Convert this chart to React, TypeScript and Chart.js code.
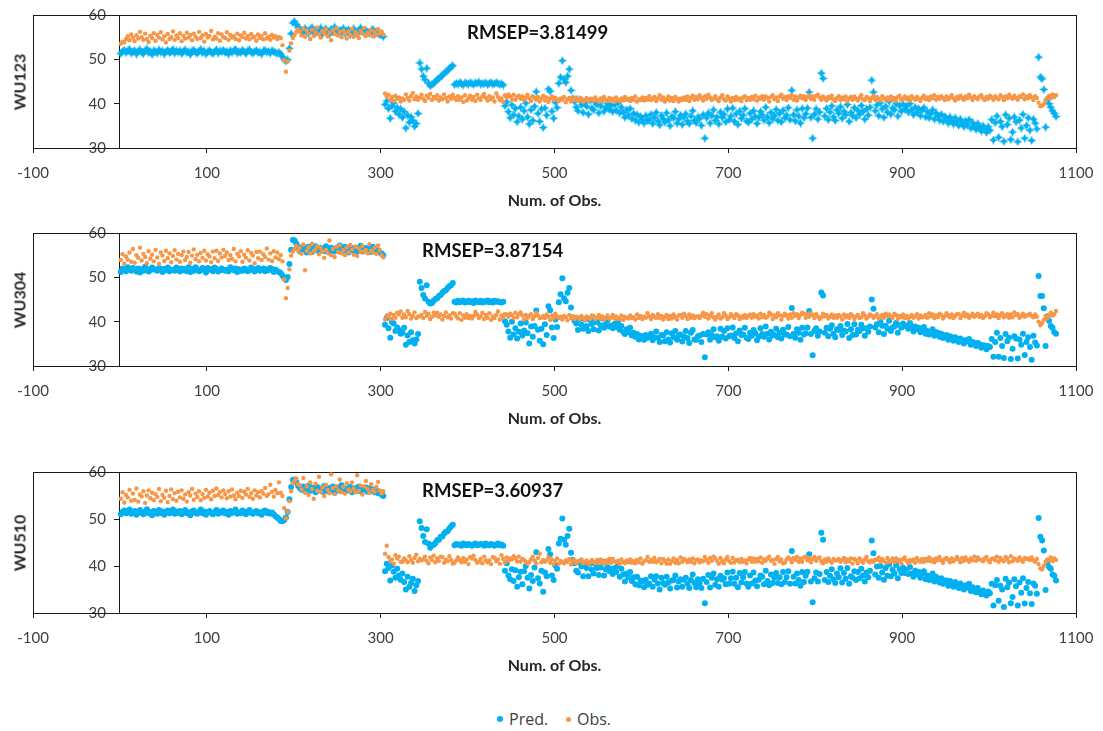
import { useEffect, useRef } from "react";
import { Chart, registerables } from "chart.js";

Chart.register(...registerables);

// Observation numbering: every second observation is kept, starting at 1
const OBS_FIRST = 1;
const OBS_STEP = 2;

const X_MIN = -100;
const X_MAX = 1100;
const X_STEP = 200;
const Y_MIN = 30;
const Y_MAX = 60;
const Y_STEP = 10;

const unitNames = ["WU123", "WU304", "WU510"];
const rmsepValues = [3.81499, 3.87154, 3.60937];
const seriesNames = ["Pred.", "Obs."];

const predWU123 = [
  51.3, 51.8, 52.1, 51.5, 51.9, 52.3, 51.4, 51.7, 52.0, 51.2,
  51.8, 52.2, 51.6, 51.3, 51.9, 52.4, 51.5, 51.8, 51.1, 52.0,
  51.7, 51.4, 52.2, 51.6, 51.9, 51.2, 51.8, 52.1, 51.5, 51.7,
  52.3, 51.4, 51.9, 51.6, 52.0, 51.3, 51.8, 52.2, 51.5, 51.7,
  51.1, 51.9, 52.1, 51.6, 51.4, 51.8, 52.3, 51.5, 51.9, 51.2,
  51.7, 52.0, 51.6, 51.3, 51.8, 52.2, 51.4, 51.9, 51.7, 52.1,
  51.5, 51.8, 51.2, 52.0, 51.6, 51.9, 52.3, 51.4, 51.7, 51.5,
  52.1, 51.8, 51.3, 51.9, 52.2, 51.6, 51.4, 51.8, 52.0, 51.5,
  51.7, 51.2, 51.9, 52.1, 51.6, 51.8, 51.4, 52.0, 51.7, 51.5,
  51.3, 51.6,
  51.2, 50.6, 50.0, 49.6, 49.9, 52.5, 55.8, 58.2, 58.5, 57.9, 57.2,
  56.9, 56.5, 56.1, 57.0, 56.4, 55.8, 56.7, 57.2, 56.2, 55.9,
  56.6, 56.3, 57.1, 55.7, 56.5, 56.9, 56.0, 55.6, 56.8, 56.3,
  57.3, 56.1, 55.9, 56.6, 56.2, 57.0, 55.8, 56.4, 56.7, 55.5,
  56.2, 56.9, 56.0, 55.7, 56.5, 57.1, 56.3, 55.9, 56.6, 56.1,
  55.8, 56.4, 56.8, 55.6, 56.2, 55.9, 55.5, 55.7, 55.1,
  39.8, 40.6, 38.9, 36.7, 39.5, 40.2, 38.3, 39.1, 37.6, 38.8,
  36.9, 38.2, 34.5, 37.4, 35.8, 37.0, 36.2, 34.9, 35.5, 37.8,
  49.2, 47.8, 46.2, 45.4, 48.0, 44.6, 44.0, 44.3,
  44.6, 45.0, 45.4, 45.7, 46.1, 46.4, 46.8, 47.2, 47.5, 47.9, 48.3, 48.6,
  44.3, 44.6, 44.4, 44.8, 44.5, 44.2, 44.7, 44.6, 44.4, 44.8,
  44.5, 44.3, 44.7, 44.6, 44.9, 44.4, 44.6, 44.5, 44.7, 44.3,
  44.6, 44.8, 44.4, 44.5, 44.7, 44.6, 44.3, 44.5, 44.2,
  39.5, 40.4, 38.2, 36.8, 39.7, 37.5, 38.9, 35.9, 37.2, 39.2,
  36.5, 38.4, 40.1, 37.0, 35.4, 38.6, 36.2, 39.4, 42.7, 37.8,
  36.0, 38.8, 34.6, 39.0, 37.4, 43.3, 42.8, 38.3, 36.7, 40.3,
  39.1,
  44.6, 46.0, 49.7, 45.5, 44.8, 46.2, 47.8, 43.0, 41.2,
  40.5, 39.2, 38.4, 40.9, 39.7, 38.0, 40.2, 39.4, 37.6, 40.7,
  39.0, 38.6, 40.3, 39.8, 37.9, 39.5, 40.8, 38.3, 39.1, 40.0,
  38.7, 39.6, 38.2,
  39.8, 38.5, 40.1, 37.9, 39.2, 38.0, 36.9, 38.6, 37.4, 38.9,
  36.6, 37.8, 36.3, 37.5, 35.8, 37.1, 36.5, 35.6, 37.3, 36.2,
  36.4, 37.6, 35.5, 36.9, 38.0, 36.1, 35.2, 37.3, 36.6, 35.8,
  37.9, 36.3, 35.0, 37.1, 36.8, 38.2, 35.6, 36.5, 37.4, 35.3,
  36.9, 37.7, 36.0, 35.5, 37.2, 38.4, 36.2, 35.7, 37.0, 36.6,
  35.1, 37.5,
  32.2,
  36.8, 37.9, 35.6, 37.3, 38.6, 36.2, 37.0, 35.4, 38.1, 36.9,
  37.6, 35.9, 38.8, 36.4, 37.2, 39.0, 36.0, 37.7, 35.3, 38.3,
  36.7, 37.4, 38.9, 36.1, 35.8, 37.8, 36.5, 38.4, 37.1, 35.5,
  36.9, 38.2, 37.5, 36.3, 39.2, 37.0, 35.7, 38.0, 36.6, 37.3,
  38.7, 36.2, 37.8, 35.9, 38.5, 36.8, 37.4, 39.1, 36.4,
  43.0,
  37.5, 36.1, 38.6, 37.2, 35.6, 38.9, 36.8, 37.7, 39.0,
  42.6, 36.9, 32.2,
  37.6, 38.8, 36.5, 38.1,
  46.9, 45.7,
  37.2, 38.9, 36.4, 38.1, 39.5, 37.0, 36.2, 38.6, 37.8, 39.3,
  36.7, 38.3, 37.5, 39.8, 36.0, 38.0, 37.3, 39.1, 36.8, 38.5,
  37.6, 39.6, 38.2, 36.5, 38.8, 37.4, 39.2,
  45.3, 42.6,
  38.4, 39.7, 37.3, 40.2, 38.8, 36.9, 39.4, 38.1, 40.5, 37.6,
  39.0, 38.6, 40.0, 37.2, 39.5, 38.3, 39.9, 38.7,
  39.4, 38.1, 40.0, 38.6, 37.5, 39.2, 38.0, 38.9, 37.3, 38.5,
  39.1, 37.0, 38.2, 36.8, 37.7, 38.6, 36.5, 37.9, 37.2, 36.3,
  37.6, 36.0, 37.1, 36.7, 35.6, 37.0, 36.2, 35.4, 36.8, 35.9,
  35.1, 36.5, 35.5, 34.8, 36.1, 35.2, 36.4, 34.5, 35.7, 34.9,
  34.2, 35.5, 34.6, 33.8, 35.0, 34.3, 33.5, 34.8, 34.0,
  36.4, 31.8, 35.7, 37.2, 32.4, 36.0, 34.8, 31.5, 37.5, 35.3,
  36.7, 31.9, 33.6, 37.0, 35.9, 31.4, 36.3, 34.5, 37.6, 32.2,
  35.1, 36.8, 34.0, 31.7, 36.5, 35.6, 34.3,
  50.5, 46.0, 45.6, 43.2, 34.7, 41.0, 40.0, 39.2, 38.4, 37.8, 37.1,
];

const obsWU123 = [
  53.5, 54.0, 53.8, 54.6, 55.2, 54.3, 55.6, 54.9, 54.1, 55.4,
  54.7, 56.2, 55.0, 54.4, 55.8, 54.6, 53.9, 55.3, 54.8, 55.9,
  54.2, 55.5, 54.9, 56.1, 54.5, 55.2, 53.8, 55.7, 54.6, 55.0,
  56.3, 54.4, 55.4, 54.8, 55.9, 54.1, 55.3, 54.7, 56.0, 54.9,
  55.5, 54.3, 55.8, 55.1, 54.6, 56.2, 54.8, 55.4, 54.0, 55.7,
  54.9, 55.3, 56.4, 54.5, 55.1, 54.7, 55.9, 54.2, 55.6, 55.0,
  54.8, 56.1, 54.4, 55.5, 54.9, 55.2, 54.6, 55.8, 54.3, 55.4,
  55.0, 56.0, 54.7, 55.3, 54.5, 55.7, 54.9, 55.1, 54.2, 55.6,
  54.8, 55.3, 54.5, 55.9, 54.7, 55.1, 54.4, 55.5, 54.9, 55.2,
  54.6, 55.0,
  54.8, 53.2, 49.8, 47.2, 49.5, 52.0, 53.6, 54.8, 55.5, 56.2, 56.8,
  56.2, 55.4, 56.9, 55.1, 56.5, 55.8, 54.6, 56.7, 55.3, 56.1,
  57.2, 55.6, 54.9, 56.4, 55.9, 56.8, 55.2, 56.0, 54.3, 56.6,
  55.7, 57.0, 55.4, 56.2, 55.0, 56.5, 55.8, 54.7, 56.3, 55.5,
  56.9, 55.1, 56.1, 55.6, 54.8, 56.4, 55.9, 57.1, 55.3, 56.0,
  55.7, 56.6, 55.2, 56.2, 55.5, 56.8, 55.9, 56.3, 55.6,
  42.3, 41.6, 42.0, 40.9, 41.5, 40.6, 41.8, 41.1, 41.4, 40.5,
  41.2, 40.8, 42.1, 41.3, 40.7, 41.7, 42.4, 41.0, 41.6, 40.9,
  41.4, 42.0, 41.1, 40.6, 41.8, 41.3, 42.2, 40.8, 41.5, 41.2,
  41.9, 40.7, 41.4, 41.0, 42.1, 41.3, 40.5, 41.6, 41.1, 42.0,
  41.3, 40.8, 41.7, 40.9, 41.4, 40.4, 41.9, 40.7, 41.2, 41.8,
  40.9, 41.5, 40.6, 42.0, 41.2, 40.8, 41.6, 42.2, 41.3, 40.7,
  41.7, 41.0, 41.4, 40.5, 42.3, 41.5, 40.8, 41.2, 40.4, 41.9,
  41.4, 42.1, 41.7, 41.0, 42.0, 40.9, 41.5, 41.8, 41.1, 41.6,
  40.8, 41.4, 42.0, 41.2, 40.6, 41.7, 41.3, 40.9, 41.5, 40.5,
  41.2, 41.8, 40.7, 41.4, 40.4, 41.1, 41.6, 40.8, 41.3, 40.9,
  40.6, 41.2, 40.9, 41.5, 40.3, 41.0, 41.3, 40.5, 41.1, 40.8,
  41.4, 40.6, 40.9, 41.2, 40.4, 40.8, 41.3, 40.6, 41.0, 41.1,
  40.7, 41.4, 40.8, 40.5, 41.2, 40.7, 41.5, 40.9, 40.6, 41.3,
  40.9, 41.1, 40.4, 41.4, 40.8, 40.6, 41.2, 40.7, 41.5, 40.9,
  41.1, 40.6, 41.3, 40.8, 41.6, 40.5, 41.0, 40.8, 41.4, 40.7,
  41.3, 40.9, 41.7, 40.8, 41.1, 41.5, 40.6, 41.2, 41.9, 40.9,
  41.4, 40.5, 41.0, 41.6, 40.7, 41.3, 40.6, 41.5, 41.1, 40.5,
  41.2, 40.8, 41.4, 40.9, 41.6, 40.6, 41.3, 41.8, 40.9, 41.5,
  41.0, 41.9, 41.3, 40.7, 41.7, 41.1, 42.0, 41.4, 40.8, 41.2,
  41.7, 41.0, 40.6, 41.4, 41.9, 41.0, 40.7, 41.6, 41.1, 40.5,
  41.3, 40.8, 41.5, 40.9, 41.2, 40.6, 41.4, 41.7, 40.8, 41.3,
  40.9, 41.5, 41.0, 41.8, 40.7, 41.4, 41.1, 41.7, 40.9, 41.6,
  41.3, 40.5, 41.5, 41.9, 41.0, 41.4, 40.6, 41.6, 42.0, 41.1,
  41.5, 40.8, 41.7, 41.3, 41.9, 40.9, 41.6, 40.7, 41.4, 41.8,
  41.2, 41.7, 40.8, 41.5, 41.9, 41.1, 41.6, 40.9, 41.8, 42.0,
  41.4, 40.9, 41.6, 41.1, 40.7, 41.5, 41.2, 41.8, 41.0, 40.6,
  41.3, 41.7, 40.8, 41.4, 41.0, 41.6, 40.5, 41.2, 41.5, 40.9,
  41.6, 41.1, 40.7, 41.4, 41.9, 41.0, 40.8, 41.5, 41.2, 40.6,
  41.3, 41.8, 40.9, 41.5, 41.1, 40.7, 41.7, 41.2, 40.9, 41.4,
  40.8, 41.6, 41.0, 41.3, 40.6, 41.5, 41.8, 40.9, 41.2, 41.6,
  41.0, 41.4, 40.7, 41.7, 41.2, 40.9, 41.5, 41.1, 40.6, 41.3,
  41.8, 41.0, 41.4, 40.8, 41.6, 41.2, 41.9, 40.9, 41.5, 41.1,
  41.7, 41.3, 40.8, 41.6, 41.0, 41.4, 41.9, 41.2, 40.7, 41.5,
  41.1, 41.8, 41.3, 40.9, 41.6, 41.2, 42.0, 41.4, 40.8, 41.7,
  41.3, 41.0, 41.6, 41.9, 41.2, 40.8, 41.5, 41.1, 41.8, 41.4,
  40.9, 41.7, 41.3, 41.0, 41.9, 41.5, 40.8, 41.6, 41.2, 42.0,
  41.4, 41.1, 41.8, 41.3, 40.9, 41.7, 41.5, 42.1, 41.0, 41.6,
  41.2, 41.9, 41.4, 40.8, 41.7, 41.3, 40.2, 39.4, 39.6, 39.9,
  40.6, 41.3, 41.8, 41.2, 42.1, 41.5, 41.9,
];

const predWU304 = [
  51.2, 52.0, 51.7, 51.4, 52.3, 51.9, 51.5, 52.1, 51.8, 51.3,
  52.0, 51.1, 51.8, 51.5, 52.4, 51.9, 51.3, 51.6, 52.2, 51.8,
  51.7, 51.5, 52.1, 51.8, 51.2, 51.9, 51.6, 52.2, 51.4, 51.7,
  51.7, 51.5, 52.2, 51.8, 51.3, 52.0, 51.6, 51.9, 51.4, 52.3,
  51.2, 51.9, 51.5, 52.3, 51.8, 51.4, 51.6, 52.1, 51.9, 51.1,
  52.1, 51.7, 51.9, 51.4, 52.2, 51.8, 51.3, 51.6, 52.0, 51.7,
  51.5, 51.7, 51.4, 52.3, 51.9, 51.6, 52.0, 51.2, 51.8, 51.5,
  51.5, 52.0, 51.8, 51.4, 51.6, 52.2, 51.9, 51.3, 51.8, 52.1,
  51.5, 51.7, 52.0, 51.4, 51.8, 51.6, 52.1, 51.9, 51.2, 51.7,
  51.4, 51.2,
  51.0, 50.4, 49.8, 49.4, 50.1, 53.0, 56.2, 58.4, 58.3, 57.6, 56.9,
  55.9, 56.4, 56.8, 56.2, 55.6, 56.9, 56.3, 55.7, 56.5, 57.0,
  56.1, 55.8, 56.6, 56.2, 55.9, 57.0, 56.4, 55.6, 56.7, 56.3,
  55.8, 56.5, 56.1, 57.2, 55.7, 56.4, 56.9, 56.0, 55.6, 56.8,
  56.3, 56.0, 56.7, 55.9, 56.5, 57.1, 55.8, 56.2, 56.6, 56.1,
  56.4, 55.7, 56.9, 56.2, 55.8, 56.1, 55.6, 55.4, 55.0,
  39.3, 40.8, 38.5, 36.4, 39.9, 39.6, 37.9, 38.7, 38.1, 37.3,
  37.5, 38.6, 34.8, 36.9, 35.4, 37.6, 35.8, 35.1, 36.0, 37.2,
  49.0, 47.6, 46.0, 45.2, 48.2, 44.5, 44.1, 44.2,
  44.7, 45.1, 45.3, 45.8, 46.0, 46.5, 46.9, 47.1, 47.6, 48.0, 48.2, 48.7,
  44.5, 44.3, 44.7, 44.4, 44.6, 44.8, 44.3, 44.5, 44.7, 44.4,
  44.6, 44.2, 44.8, 44.5, 44.4, 44.7, 44.3, 44.6, 44.5, 44.8,
  44.4, 44.6, 44.3, 44.7, 44.5, 44.6, 44.4, 44.3, 44.5,
  40.1, 39.3, 37.8, 36.4, 40.0, 37.1, 38.5, 36.2, 37.7, 39.6,
  36.9, 38.0, 39.8, 37.4, 35.1, 38.9, 36.6, 39.0, 42.5, 38.2,
  35.7, 38.4, 34.9, 39.4, 37.0, 43.5, 42.6, 38.7, 36.3, 40.5,
  38.8,
  44.4, 46.2, 49.8, 45.3, 44.6, 46.5, 47.6, 43.2, 41.0,
  40.2, 39.6, 38.1, 40.6, 39.3, 38.4, 40.5, 39.0, 37.9, 40.4,
  39.5, 38.3, 40.0, 39.9, 38.0, 39.2, 40.7, 38.6, 39.4, 40.3,
  38.9, 39.1, 38.5,
  39.5, 38.8, 39.9, 38.2, 39.0, 37.7, 37.2, 38.3, 37.6, 38.6,
  36.9, 37.5, 36.6, 37.2, 36.0, 36.8, 36.3, 35.9, 37.0, 36.4,
  36.7, 37.3, 35.8, 36.5, 37.8, 36.4, 35.4, 37.0, 36.9, 35.6,
  37.6, 36.0, 35.3, 37.4, 36.5, 37.9, 35.9, 36.8, 37.1, 35.5,
  36.6, 37.9, 36.3, 35.2, 37.5, 38.1, 36.0, 35.9, 36.7, 36.9,
  35.4, 37.2,
  32.0,
  37.1, 37.6, 35.9, 37.0, 38.3, 36.5, 36.7, 35.7, 38.4, 36.6,
  37.9, 36.2, 38.5, 36.7, 36.9, 38.7, 36.3, 37.4, 35.6, 38.0,
  37.0, 37.1, 38.6, 36.4, 36.1, 37.5, 36.8, 38.1, 37.4, 35.8,
  36.6, 38.5, 37.2, 36.6, 38.9, 37.3, 36.0, 37.7, 36.9, 37.0,
  38.4, 36.5, 37.5, 36.2, 38.2, 37.1, 37.1, 38.8, 36.7,
  43.1,
  37.2, 36.4, 38.3, 37.5, 35.9, 38.6, 37.1, 37.4, 38.7,
  42.4, 37.2, 32.4,
  37.9, 38.5, 36.8, 37.8,
  46.6, 45.9,
  37.5, 38.6, 36.7, 38.4, 39.2, 37.3, 36.5, 38.3, 38.1, 39.0,
  37.0, 38.0, 37.8, 39.5, 36.3, 38.3, 37.0, 39.4, 37.1, 38.2,
  37.9, 39.3, 38.5, 36.8, 38.5, 37.7, 38.9,
  45.0, 42.9,
  38.7, 39.4, 37.6, 39.9, 39.1, 37.2, 39.1, 38.4, 40.2, 37.9,
  38.7, 38.9, 39.7, 37.5, 39.2, 38.6, 39.6, 39.0,
  39.1, 38.4, 39.7, 38.9, 37.8, 38.9, 38.3, 38.6, 37.6, 38.2,
  38.8, 37.3, 37.9, 37.1, 37.4, 38.3, 36.8, 37.6, 37.5, 36.6,
  37.3, 36.3, 36.8, 37.0, 35.9, 36.7, 36.5, 35.7, 36.5, 36.2,
  35.4, 36.2, 35.8, 35.1, 35.8, 35.5, 36.1, 34.8, 35.4, 35.2,
  34.5, 35.2, 34.9, 34.1, 34.7, 34.6, 33.8, 34.5, 34.3,
  36.1, 32.1, 35.4, 37.5, 32.1, 36.3, 34.5, 31.8, 37.2, 35.6,
  36.4, 31.6, 33.9, 36.7, 36.2, 31.7, 36.0, 34.8, 37.3, 32.5,
  35.4, 36.5, 34.3, 31.4, 36.8, 35.3, 34.6,
  50.3, 45.8, 45.8, 43.0, 34.5, 41.2, 40.2, 39.0, 38.6, 37.6, 37.3,
];

const obsWU304 = [
  53.9, 55.2, 53.1, 54.7, 54.0, 55.6, 53.5, 56.4, 53.3, 55.0,
  54.4, 56.7, 53.8, 55.3, 54.6, 53.2, 55.9, 54.2, 55.1, 53.6,
  56.2, 54.5, 53.0, 55.6, 54.9, 53.7, 56.0, 54.3, 55.4, 53.4,
  54.8, 56.1, 54.0, 55.3, 53.5, 55.0, 55.8, 53.9, 54.6, 55.7,
  53.3, 54.9, 56.3, 54.1, 55.1, 53.6, 55.5, 54.4, 56.0, 53.8,
  55.2, 54.7, 53.4, 55.8, 54.3, 56.0, 53.7, 55.4, 54.5, 56.2,
  54.8, 55.6, 53.9, 55.0, 54.2, 56.4, 53.6, 55.3, 54.7, 55.9,
  53.5, 55.1, 54.4, 56.1, 53.8, 55.5, 54.9, 53.2, 55.7, 54.3,
  55.8, 53.9, 55.2, 54.6, 56.5, 54.0, 55.4, 53.7, 55.9, 54.5,
  55.6, 54.1,
  55.0, 53.6, 49.5, 45.3, 47.6, 51.8, 54.9, 55.8, 56.4, 57.1, 56.0,
  56.7, 55.3, 57.4, 51.6, 56.0, 56.8, 55.4, 57.6, 55.9, 56.3,
  57.0, 55.2, 56.6, 55.8, 54.4, 56.2, 55.5, 58.3, 55.0, 56.4,
  54.6, 56.9, 55.7, 57.2, 55.4, 56.1, 55.0, 56.8, 55.6, 57.3,
  56.3, 55.1, 56.9, 54.8, 56.5, 55.7, 57.1, 55.9, 56.2, 55.4,
  57.5, 56.0, 55.6, 56.7, 55.3, 57.2, 56.1, 55.0, 54.5,
  40.5, 41.4, 41.1, 41.8, 40.6, 41.5, 40.9, 42.0, 41.6, 42.3,
  40.9, 41.6, 41.0, 42.4, 41.7, 40.7, 41.3, 42.1, 40.8, 41.2,
  41.2, 41.5, 40.8, 42.2, 41.3, 41.8, 40.6, 41.1, 42.0, 41.4,
  42.0, 41.1, 41.6, 40.5, 41.3, 42.1, 41.0, 41.4, 40.7, 41.9,
  41.8, 41.2, 40.7, 41.9, 40.4, 41.4, 40.9, 41.7, 40.8, 41.3,
  40.7, 41.3, 42.2, 41.6, 40.8, 41.2, 42.0, 40.6, 41.5, 40.9,
  41.9, 40.4, 41.2, 40.8, 41.5, 42.3, 40.5, 41.4, 41.0, 41.7,
  41.6, 41.1, 41.8, 41.5, 40.9, 42.0, 41.0, 41.7, 42.1, 41.4,
  40.5, 41.5, 40.9, 41.3, 41.7, 40.6, 41.2, 42.0, 41.4, 40.8,
  40.9, 41.3, 40.8, 41.6, 41.1, 40.4, 41.4, 40.7, 41.8, 41.2,
  40.8, 41.1, 40.5, 41.3, 41.0, 40.3, 41.5, 40.9, 41.2, 40.6,
  41.1, 41.0, 40.6, 41.3, 40.8, 40.4, 41.2, 40.9, 40.6, 41.4,
  41.3, 40.6, 40.9, 41.5, 40.7, 41.2, 40.5, 40.8, 41.4, 40.7,
  40.9, 41.5, 40.7, 41.2, 40.6, 40.8, 41.4, 40.4, 41.1, 40.9,
  40.7, 41.4, 40.8, 41.0, 40.5, 41.6, 40.8, 41.3, 40.6, 41.1,
  40.9, 41.9, 41.2, 40.6, 41.5, 41.1, 40.8, 41.7, 40.9, 41.3,
  40.5, 41.1, 41.5, 40.6, 41.3, 40.7, 41.6, 41.0, 40.5, 41.4,
  41.5, 40.9, 41.8, 41.3, 40.6, 41.6, 40.9, 41.4, 40.8, 41.2,
  41.2, 40.8, 41.4, 42.0, 41.1, 41.7, 40.7, 41.3, 41.9, 41.0,
  40.5, 41.1, 41.6, 40.7, 41.0, 41.9, 41.4, 40.6, 41.0, 41.7,
  41.3, 40.8, 41.7, 41.4, 40.6, 41.2, 40.9, 41.5, 40.8, 41.3,
  41.6, 40.9, 41.7, 41.1, 41.4, 40.7, 41.8, 41.0, 41.5, 40.9,
  41.1, 42.0, 41.6, 40.6, 41.4, 41.0, 41.9, 41.5, 40.5, 41.3,
  41.8, 41.4, 40.7, 41.6, 40.9, 41.9, 41.3, 41.7, 40.8, 41.5,
  42.0, 41.8, 40.9, 41.6, 41.1, 41.9, 41.5, 40.8, 41.7, 41.2,
  40.6, 41.0, 41.8, 41.2, 41.5, 40.7, 41.1, 41.6, 40.9, 41.4,
  40.9, 41.5, 41.2, 40.5, 41.6, 41.0, 41.4, 40.8, 41.7, 41.3,
  40.6, 41.2, 41.5, 40.8, 41.0, 41.9, 41.4, 40.7, 41.1, 41.6,
  41.4, 40.9, 41.2, 41.7, 40.7, 41.1, 41.5, 40.9, 41.8, 41.3,
  41.6, 41.2, 40.9, 41.8, 41.5, 40.6, 41.3, 41.0, 41.6, 40.8,
  41.3, 40.6, 41.1, 41.5, 40.9, 41.2, 41.7, 40.7, 41.4, 41.0,
  41.1, 41.5, 40.9, 41.9, 41.2, 41.6, 40.8, 41.4, 41.0, 41.8,
  41.5, 40.7, 41.2, 41.9, 41.4, 41.0, 41.6, 40.8, 41.3, 41.7,
  41.7, 40.8, 41.4, 42.0, 41.2, 41.6, 40.9, 41.3, 41.8, 41.1,
  41.4, 41.8, 41.1, 41.5, 40.8, 41.2, 41.9, 41.6, 41.0, 41.3,
  42.0, 41.2, 41.6, 40.8, 41.5, 41.9, 41.0, 41.3, 41.7, 40.9,
  41.6, 41.0, 42.1, 41.5, 41.7, 40.9, 41.3, 41.8, 41.1, 41.4,
  41.5, 41.8, 41.3, 41.0, 41.6, 41.1, 40.0, 39.2, 39.7, 40.4,
  41.2, 40.7, 41.5, 42.0, 41.4, 41.7, 42.4,
];

const predWU510 = [
  51.0, 51.5, 51.8, 51.2, 51.6, 52.0, 51.1, 51.4, 51.7, 50.9,
  51.5, 51.9, 51.3, 51.0, 51.6, 52.1, 51.2, 51.5, 50.8, 51.7,
  51.4, 51.1, 51.9, 51.3, 51.6, 50.9, 51.5, 51.8, 51.2, 51.4,
  52.0, 51.1, 51.6, 51.3, 51.7, 51.0, 51.5, 51.9, 51.2, 51.4,
  50.8, 51.6, 51.8, 51.3, 51.1, 51.5, 52.0, 51.2, 51.6, 50.9,
  51.4, 51.7, 51.3, 51.0, 51.5, 51.9, 51.1, 51.6, 51.4, 51.8,
  51.2, 51.5, 50.9, 51.7, 51.3, 51.6, 52.0, 51.1, 51.4, 51.2,
  51.8, 51.5, 51.0, 51.6, 51.9, 51.3, 51.1, 51.5, 51.7, 51.2,
  51.4, 50.9, 51.6, 51.8, 51.3, 51.5, 51.1, 51.4, 51.0, 50.6,
  50.3, 50.0,
  49.6, 49.5, 49.8, 50.3, 51.5, 54.2, 56.8, 58.3, 58.4, 57.8, 57.1,
  56.6, 56.2, 56.9, 55.9, 56.4, 57.1, 56.0, 56.7, 56.3, 55.7,
  56.8, 56.1, 56.5, 55.8, 57.0, 56.3, 55.9, 56.6, 56.2, 56.9,
  55.6, 56.4, 56.7, 56.0, 57.2, 56.3, 55.8, 56.5, 56.1, 56.8,
  55.7, 56.3, 56.6, 56.0, 56.9, 55.9, 56.4, 56.2, 56.7, 55.8,
  56.5, 56.0, 56.3, 55.7, 56.1, 55.5, 55.8, 55.2, 54.9,
  38.9, 40.5, 39.6, 36.9, 40.1, 38.8, 37.5, 39.4, 38.0, 37.1,
  38.4, 36.6, 35.0, 37.7, 35.6, 36.4, 37.3, 34.7, 35.9, 36.8,
  49.5, 48.1, 46.4, 45.1, 47.8, 44.8, 43.9, 44.4,
  44.5, 44.9, 45.5, 45.6, 46.2, 46.3, 46.9, 47.3, 47.4, 48.0, 48.4, 48.8,
  44.4, 44.7, 44.5, 44.6, 44.3, 44.8, 44.6, 44.4, 44.7, 44.5,
  44.3, 44.6, 44.8, 44.4, 44.5, 44.7, 44.6, 44.3, 44.8, 44.5,
  44.4, 44.7, 44.5, 44.3, 44.6, 44.8, 44.4, 44.6, 44.3,
  39.0, 40.6, 38.0, 37.2, 39.3, 36.8, 39.1, 35.6, 37.6, 38.8,
  36.1, 38.9, 40.0, 37.5, 35.2, 38.1, 36.8, 39.7, 42.9, 37.4,
  36.3, 39.0, 34.5, 38.6, 37.8, 43.6, 42.5, 38.0, 37.0, 40.1,
  39.4,
  44.8, 45.8, 50.1, 45.6, 44.5, 46.4, 47.9, 42.8, 41.3,
  40.6, 39.0, 38.6, 40.8, 39.9, 37.8, 40.1, 39.6, 37.8, 40.5,
  39.2, 38.4, 40.4, 39.6, 38.1, 39.7, 40.9, 38.0, 39.3, 39.8,
  38.9, 39.4, 38.3,
  39.6, 38.7, 40.0, 37.7, 39.4, 38.2, 36.7, 38.4, 37.6, 38.7,
  36.8, 37.6, 36.1, 37.7, 35.9, 36.9, 36.7, 35.5, 37.1, 36.0,
  36.2, 37.8, 35.6, 37.1, 37.8, 36.3, 35.0, 37.5, 36.4, 36.0,
  37.7, 36.5, 35.2, 36.9, 37.0, 38.0, 35.4, 36.7, 37.2, 35.6,
  37.1, 37.5, 36.2, 35.3, 37.0, 38.2, 36.4, 35.5, 37.2, 36.4,
  35.3, 37.3,
  32.1,
  36.6, 38.1, 35.4, 37.5, 38.4, 36.0, 37.2, 35.6, 37.9, 37.1,
  37.4, 36.1, 38.6, 36.2, 37.4, 38.8, 36.2, 37.5, 35.5, 38.5,
  36.5, 37.6, 38.7, 36.3, 35.6, 38.0, 36.3, 38.6, 36.9, 35.7,
  37.1, 38.0, 37.7, 36.1, 39.0, 36.8, 35.9, 38.2, 36.4, 37.5,
  38.5, 36.4, 37.6, 36.1, 38.7, 36.6, 37.6, 38.9, 36.2,
  43.2,
  37.7, 36.3, 38.4, 37.0, 35.8, 38.7, 36.6, 37.9, 38.8,
  42.5, 36.7, 32.3,
  37.4, 38.6, 36.7, 38.3,
  47.1, 45.6,
  37.0, 38.7, 36.6, 37.9, 39.3, 37.2, 36.4, 38.4, 37.6, 39.5,
  36.5, 38.5, 37.3, 39.6, 36.2, 37.8, 37.5, 38.9, 37.0, 38.7,
  37.4, 39.4, 38.0, 36.7, 38.6, 37.6, 39.0,
  45.4, 42.7,
  38.2, 39.9, 37.5, 40.0, 38.6, 37.1, 39.6, 37.9, 40.3, 37.8,
  39.2, 38.4, 40.2, 37.4, 39.3, 38.5, 39.7, 38.5,
  39.2, 38.3, 39.8, 38.4, 37.7, 39.0, 38.2, 38.7, 37.5, 38.3,
  38.9, 37.2, 38.0, 37.0, 37.5, 38.4, 36.7, 37.7, 37.0, 36.5,
  37.4, 36.2, 36.9, 36.9, 35.8, 36.8, 36.0, 35.6, 36.6, 35.7,
  35.3, 36.3, 35.3, 35.0, 35.9, 35.4, 36.2, 34.7, 35.5, 34.7,
  34.4, 35.3, 34.4, 34.0, 34.8, 34.1, 33.7, 34.6, 34.2,
  36.2, 31.6, 35.9, 37.0, 32.6, 35.8, 35.0, 31.3, 37.3, 35.5,
  36.5, 32.1, 33.4, 37.2, 35.7, 31.6, 36.5, 34.3, 37.4, 32.0,
  35.3, 36.6, 34.2, 31.9, 36.3, 35.8, 34.1,
  50.2, 46.2, 45.4, 43.3, 34.9, 40.8, 39.8, 39.4, 38.2, 37.9, 36.9,
];

const obsWU510 = [
  54.3, 55.7, 53.5, 55.1, 54.6, 56.2, 53.9, 55.4, 54.1, 56.5,
  53.7, 55.2, 54.8, 55.9, 53.4, 55.0, 56.1, 54.4, 55.6, 54.0,
  55.3, 54.7, 56.4, 53.8, 55.1, 54.5, 56.0, 53.6, 54.9, 56.3,
  54.2, 55.5, 53.9, 55.8, 54.6, 56.1, 54.3, 55.2, 53.7, 55.7,
  55.0, 56.4, 54.1, 55.4, 54.7, 55.9, 54.0, 55.3, 54.5, 56.2,
  54.8, 55.6, 54.2, 56.0, 54.9, 56.5, 55.1, 55.7, 54.6, 56.1,
  55.3, 54.4, 55.9, 54.8, 56.3, 55.0, 54.2, 55.6, 54.9, 56.0,
  54.5, 55.8, 55.2, 56.4, 54.7, 55.5, 54.3, 56.1, 55.0, 55.7,
  54.6, 55.9, 55.4, 56.6, 54.9, 55.3, 57.3, 55.8, 54.8, 56.2,
  55.5, 57.8,
  55.6, 54.9, 52.3, 50.1, 51.5, 53.8, 55.9, 57.6, 58.2, 58.6, 57.4,
  57.2, 56.3, 58.7, 55.6, 56.9, 55.1, 57.8, 56.4, 54.3, 57.5,
  56.0, 59.0, 55.8, 56.7, 54.9, 57.3, 56.2, 55.5, 59.5, 56.6,
  55.3, 57.0, 56.1, 58.4, 55.7, 56.8, 55.4, 57.6, 56.3, 55.9,
  57.8, 56.5, 55.7, 59.3, 56.0, 57.1, 55.2, 56.9, 58.1, 56.4,
  55.6, 57.4, 56.2, 55.8, 56.8, 57.9, 56.1, 55.5, 55.9,
  42.6, 44.3, 41.9, 41.1, 41.4, 40.5, 42.3, 41.6, 42.0, 40.9,
  40.9, 41.6, 41.2, 40.8, 42.1, 41.3, 40.7, 41.7, 42.4, 41.0,
  41.5, 41.2, 41.4, 42.0, 41.1, 40.6, 41.8, 41.3, 42.2, 40.8,
  41.6, 41.1, 42.0, 41.9, 40.7, 41.4, 41.0, 42.1, 41.3, 40.5,
  40.7, 41.2, 41.8, 41.3, 40.8, 41.7, 40.9, 41.4, 40.4, 41.9,
  41.6, 42.2, 41.3, 40.7, 40.9, 41.5, 40.6, 42.0, 41.2, 40.8,
  41.2, 40.4, 41.9, 41.7, 41.0, 41.4, 40.5, 42.3, 41.5, 40.8,
  41.8, 41.1, 41.6, 41.4, 42.1, 41.7, 41.0, 42.0, 40.9, 41.5,
  41.3, 40.9, 40.5, 40.8, 41.4, 42.0, 41.2, 40.6, 41.7, 42.6,
  40.8, 41.3, 40.9, 41.2, 41.8, 40.7, 41.4, 40.4, 41.1, 41.6,
  40.5, 41.1, 40.8, 40.6, 41.2, 40.9, 41.5, 40.3, 41.0, 41.3,
  40.6, 41.0, 41.1, 41.4, 40.6, 40.9, 41.2, 40.4, 40.8, 41.3,
  40.9, 40.6, 41.3, 40.7, 41.4, 40.8, 40.5, 41.2, 40.7, 41.5,
  40.7, 41.5, 40.9, 40.9, 41.1, 40.4, 41.4, 40.8, 40.6, 41.2,
  40.8, 41.4, 40.7, 41.1, 40.6, 41.3, 40.8, 41.6, 40.5, 41.0,
  41.2, 41.9, 40.9, 41.3, 40.9, 41.7, 40.8, 41.1, 41.5, 40.6,
  41.5, 41.1, 40.5, 41.4, 40.5, 41.0, 41.6, 40.7, 41.3, 40.6,
  41.8, 40.9, 41.5, 41.2, 40.8, 41.4, 40.9, 41.6, 40.6, 41.3,
  41.4, 40.8, 41.2, 41.0, 41.9, 41.3, 40.7, 41.7, 41.1, 42.0,
  41.6, 41.1, 40.5, 41.7, 41.0, 40.6, 41.4, 41.9, 41.0, 40.7,
  41.7, 40.8, 41.3, 41.3, 40.8, 41.5, 40.9, 41.2, 40.6, 41.4,
  41.7, 40.9, 41.6, 40.9, 41.5, 41.0, 41.8, 40.7, 41.4, 41.1,
  41.6, 42.0, 41.1, 41.3, 40.5, 41.5, 41.9, 41.0, 41.4, 40.6,
  40.7, 41.4, 41.8, 41.5, 40.8, 41.7, 41.3, 41.9, 40.9, 41.6,
  40.9, 41.8, 42.0, 41.2, 41.7, 40.8, 41.5, 41.9, 41.1, 41.6,
  41.8, 41.0, 40.6, 41.4, 40.9, 41.6, 41.1, 40.7, 41.5, 41.2,
  41.2, 41.5, 40.9, 41.3, 41.7, 40.8, 41.4, 41.0, 41.6, 40.5,
  41.5, 41.2, 40.6, 41.6, 41.1, 40.7, 41.4, 41.9, 41.0, 40.8,
  41.2, 40.9, 41.4, 41.3, 41.8, 40.9, 41.5, 41.1, 40.7, 41.7,
  40.9, 41.2, 41.6, 40.8, 41.6, 41.0, 41.3, 40.6, 41.5, 41.8,
  41.1, 40.6, 41.3, 41.0, 41.4, 40.7, 41.7, 41.2, 40.9, 41.5,
  40.9, 41.5, 41.1, 41.8, 41.0, 41.4, 40.8, 41.6, 41.2, 41.9,
  41.2, 40.7, 41.5, 41.7, 41.3, 40.8, 41.6, 41.0, 41.4, 41.9,
  41.4, 40.8, 41.7, 41.1, 41.8, 41.3, 40.9, 41.6, 41.2, 42.0,
  41.1, 41.8, 41.4, 41.3, 41.0, 41.6, 41.9, 41.2, 40.8, 41.5,
  41.6, 41.2, 42.0, 40.9, 41.7, 41.3, 41.0, 41.9, 41.5, 40.8,
  42.1, 41.0, 41.6, 41.4, 41.1, 41.8, 41.3, 40.9, 41.7, 41.5,
  41.6, 41.3, 41.8, 41.2, 40.9, 41.5, 40.4, 39.5, 39.3, 40.0,
  40.9, 41.4, 41.2, 41.8, 41.0, 41.6, 41.3,
];

const BLUE = "#00B0F0";
const ORANGE = "#F79646";
const AXIS_COLOR = "#1a1a1a";
const TICK_COLOR = "#404040";
const TITLE_COLOR = "#262626";
const FONT = "Lato, 'Open Sans', sans-serif";

const PAGE_W = 1103;
const PAD_LEFT = 33;
const PAD_RIGHT = 27;
const PAD_TOP = 15;
const X_AXIS_H = 62;
const Y_LABEL_GAP = 14;

type PanelSpec = {
  unit: string;
  rmsep: number;
  pred: number[];
  obs: number[];
  starMarker: boolean;
  plotTop: number;
  plotBottom: number;
  rmsepLeft: number;
  rmsepMid: number;
};

const panels: PanelSpec[] = [
  { unit: unitNames[0], rmsep: rmsepValues[0], pred: predWU123, obs: obsWU123, starMarker: true, plotTop: 15, plotBottom: 148, rmsepLeft: 467, rmsepMid: 32 },
  { unit: unitNames[1], rmsep: rmsepValues[1], pred: predWU304, obs: obsWU304, starMarker: false, plotTop: 233, plotBottom: 366, rmsepLeft: 422, rmsepMid: 250 },
  { unit: unitNames[2], rmsep: rmsepValues[2], pred: predWU510, obs: obsWU510, starMarker: false, plotTop: 472, plotBottom: 613, rmsepLeft: 422, rmsepMid: 490 },
];

function toPoints(values: number[]) {
  return values.map((v, i) => ({ x: OBS_FIRST + i * OBS_STEP, y: v }));
}

// four-pointed star marker used for the first unit's predictions
function makeStarMarker(color: string, size: number) {
  const c = document.createElement("canvas");
  c.width = size;
  c.height = size;
  const ctx = c.getContext("2d")!;
  const m = size / 2;
  const q = size * 0.17;
  ctx.beginPath();
  ctx.moveTo(m, 0);
  ctx.lineTo(m + q, m - q);
  ctx.lineTo(size, m);
  ctx.lineTo(m + q, m + q);
  ctx.lineTo(m, size);
  ctx.lineTo(m - q, m + q);
  ctx.lineTo(0, m);
  ctx.lineTo(m - q, m - q);
  ctx.closePath();
  ctx.fillStyle = color;
  ctx.fill();
  return c;
}

// box around the whole plot area (the x = 0 axis line is drawn by the y scale)
const plotFrame = {
  id: "plotFrame",
  beforeDatasetsDraw(chart: any) {
    const { ctx, chartArea } = chart;
    ctx.save();
    ctx.strokeStyle = AXIS_COLOR;
    ctx.lineWidth = 1;
    ctx.strokeRect(
      Math.round(chartArea.left) + 0.5,
      Math.round(chartArea.top) + 0.5,
      Math.round(chartArea.right - chartArea.left),
      Math.round(chartArea.bottom - chartArea.top)
    );
    ctx.restore();
  },
};

// keep the y tick labels clear of the axis that sits at x = 0
const yLabelGap = {
  id: "yLabelGap",
  beforeDraw(chart: any) {
    const ys = chart.scales.y;
    const axisX = chart.scales.x.getPixelForValue(0);
    const items = ys.getLabelItems();
    for (const it of items) {
      it.options.translation[0] = axisX - Y_LABEL_GAP;
      it.options.textAlign = "right";
    }
  },
};

function Panel({ spec }: { spec: PanelSpec }) {
  const ref = useRef<HTMLCanvasElement>(null);
  const canvasTop = spec.plotTop - PAD_TOP;
  const canvasH = spec.plotBottom - spec.plotTop + PAD_TOP + X_AXIS_H;

  useEffect(() => {
    const canvas = ref.current;
    if (!canvas) return;
    const predStyle: any = spec.starMarker ? makeStarMarker(BLUE, 9) : "circle";
    const chart = new Chart(canvas, {
      type: "scatter",
      data: {
        datasets: [
          {
            label: seriesNames[1],
            data: toPoints(spec.obs),
            backgroundColor: ORANGE,
            borderWidth: 0,
            pointRadius: 2.2,
            pointHoverRadius: 2.2,
            order: 0,
          },
          {
            label: seriesNames[0],
            data: toPoints(spec.pred),
            backgroundColor: BLUE,
            borderWidth: 0,
            pointStyle: predStyle,
            pointRadius: spec.starMarker ? 4 : 3,
            pointHoverRadius: spec.starMarker ? 4 : 3,
            order: 1,
          },
        ],
      },
      options: {
        responsive: false,
        animation: false,
        devicePixelRatio: 1,
        events: [],
        layout: { padding: { left: PAD_LEFT, right: PAD_RIGHT, top: PAD_TOP, bottom: 0 } },
        plugins: { legend: { display: false }, tooltip: { enabled: false } },
        scales: {
          x: {
            type: "linear",
            position: "bottom",
            min: X_MIN,
            max: X_MAX,
            ticks: {
              stepSize: X_STEP,
              padding: 11,
              color: TICK_COLOR,
              font: { family: FONT, size: 15 },
              callback: (v: any) => String(v),
            },
            grid: { drawOnChartArea: false, drawTicks: true, tickLength: 5, color: AXIS_COLOR },
            border: { display: true, color: AXIS_COLOR, width: 1 },
            title: {
              display: true,
              text: "Num. of Obs.",
              color: TITLE_COLOR,
              font: { family: FONT, size: 16, weight: "bold" },
              padding: { top: 0, bottom: 0 },
            },
            afterFit(scale: any) {
              scale.height = X_AXIS_H;
              scale.paddingLeft = 0;
              scale.paddingRight = 0;
            },
          },
          y: {
            type: "linear",
            position: { x: 0 },
            min: Y_MIN,
            max: Y_MAX,
            ticks: { stepSize: Y_STEP, color: TICK_COLOR, font: { family: FONT, size: 15 } },
            grid: { drawOnChartArea: false, drawTicks: true, tickLength: 5, color: AXIS_COLOR },
            border: { display: true, color: AXIS_COLOR, width: 1 },
            afterFit(scale: any) {
              scale.paddingTop = 0;
              scale.paddingBottom = 0;
            },
          },
        } as any,
      },
      plugins: [plotFrame, yLabelGap],
    });
    return () => chart.destroy();
  }, [spec]);

  const midY = (spec.plotTop + spec.plotBottom) / 2;

  return (
    <>
      <canvas
        ref={ref}
        width={PAGE_W}
        height={canvasH}
        style={{ position: "absolute", left: 0, top: canvasTop, width: PAGE_W, height: canvasH }}
      />
      <div
        style={{
          position: "absolute",
          left: 19,
          top: midY,
          transform: "translate(-50%, -50%) rotate(-90deg)",
          font: `bold 16px ${FONT}`,
          color: TITLE_COLOR,
          whiteSpace: "nowrap",
        }}
      >
        {spec.unit}
      </div>
      <div
        style={{
          position: "absolute",
          left: spec.rmsepLeft,
          top: spec.rmsepMid,
          transform: "translateY(-50%)",
          font: `bold 18.5px ${FONT}`,
          color: "#111",
          whiteSpace: "nowrap",
        }}
      >
        {`RMSEP=${spec.rmsep.toFixed(5)}`}
      </div>
    </>
  );
}

function LegendItem({ color, size, label, left }: { color: string; size: number; label: string; left: number }) {
  return (
    <div style={{ position: "absolute", left, top: 719, transform: "translateY(-50%)", display: "flex", alignItems: "center" }}>
      <span style={{ display: "inline-block", width: size, height: size, borderRadius: "50%", background: color }} />
      <span style={{ marginLeft: 6, font: `16px 'Open Sans', sans-serif`, color: TICK_COLOR }}>{label}</span>
    </div>
  );
}

export default function App() {
  return (
    <div style={{ position: "fixed", left: 0, top: 0, width: PAGE_W, height: 731, background: "#fff", overflow: "hidden" }}>
      {panels.map((p) => (
        <Panel key={p.unit} spec={p} />
      ))}
      <LegendItem color={BLUE} size={6} label={seriesNames[0]} left={497} />
      <LegendItem color={ORANGE} size={5} label={seriesNames[1]} left={566} />
    </div>
  );
}
